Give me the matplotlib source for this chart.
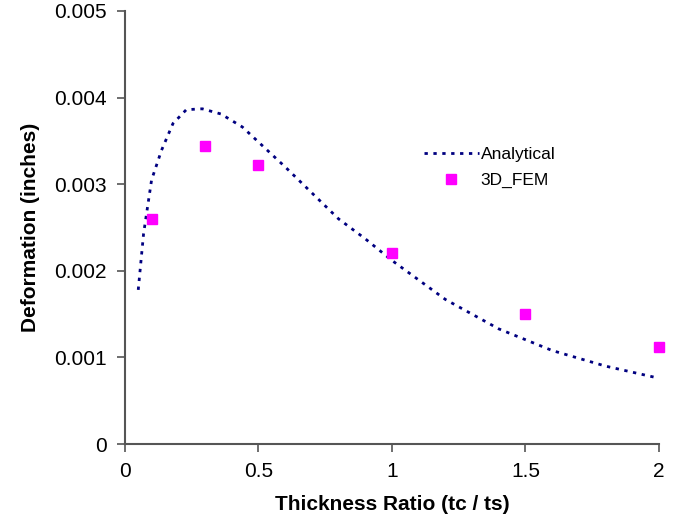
import matplotlib
matplotlib.use("Agg")
import matplotlib.pyplot as plt

plt.rcParams["font.family"] = ["Liberation Sans", "DejaVu Sans"]

# analytical curve
ratio_analytical = [0.05, 0.07, 0.1, 0.137, 0.18, 0.23, 0.29, 0.36, 0.44, 0.52,
                    0.6, 0.7, 0.8, 0.9, 1.0, 1.2, 1.4, 1.6, 1.8, 2.0]
defl_analytical = [0.00178, 0.00243, 0.00305, 0.00339, 0.0037, 0.00386, 0.00387,
                   0.00381, 0.00366, 0.00343, 0.0032, 0.0029, 0.0026, 0.00237,
                   0.00212, 0.00167, 0.00133, 0.00108, 0.0009, 0.00076]

# 3D FEM points
ratio_fem = [0.1, 0.3, 0.5, 1.0, 1.5, 2.0]
defl_fem = [0.0026, 0.00344, 0.00322, 0.0022, 0.0015, 0.00112]

x_ticks = [0, 0.5, 1, 1.5, 2]
x_tick_labels = ["0", "0.5", "1", "1.5", "2"]
y_ticks = [0, 0.001, 0.002, 0.003, 0.004, 0.005]
y_tick_labels = ["0", "0.001", "0.002", "0.003", "0.004", "0.005"]

fig = plt.figure(figsize=(6.9, 5.2), dpi=100)
ax = fig.add_axes([0.181, 0.146, 0.774, 0.833])

ax.plot(ratio_analytical, defl_analytical, color="#000080", lw=2,
        linestyle=(0, (1.2, 2.0)), label="Analytical")
ax.plot(ratio_fem, defl_fem, linestyle="none", marker="s", markersize=7.5,
        color="#ff00ff", label="3D_FEM", clip_on=False, zorder=3)

ax.set_xlim(0, 2)
ax.set_ylim(0, 0.005)
ax.set_xticks(x_ticks)
ax.set_xticklabels(x_tick_labels)
ax.set_yticks(y_ticks)
ax.set_yticklabels(y_tick_labels)
ax.tick_params(labelsize=15, colors="#555555", labelcolor="black",
               length=6, width=1.2, pad=7)

for side in ["top", "right"]:
    ax.spines[side].set_visible(False)
for side in ["left", "bottom"]:
    ax.spines[side].set_color("#555555")
    ax.spines[side].set_linewidth(1.5)

ax.set_xlabel("Thickness Ratio (tc / ts)", fontsize=15, fontweight="bold", labelpad=10)
ax.set_ylabel("Deformation (inches)", fontsize=15, fontweight="bold", labelpad=10)

ax.legend(loc="upper left", bbox_to_anchor=(0.53, 0.722), frameon=False,
          fontsize=12.5, handlelength=3.2, handletextpad=0.1, labelspacing=0.6)

fig.savefig("out.png", dpi=100)
